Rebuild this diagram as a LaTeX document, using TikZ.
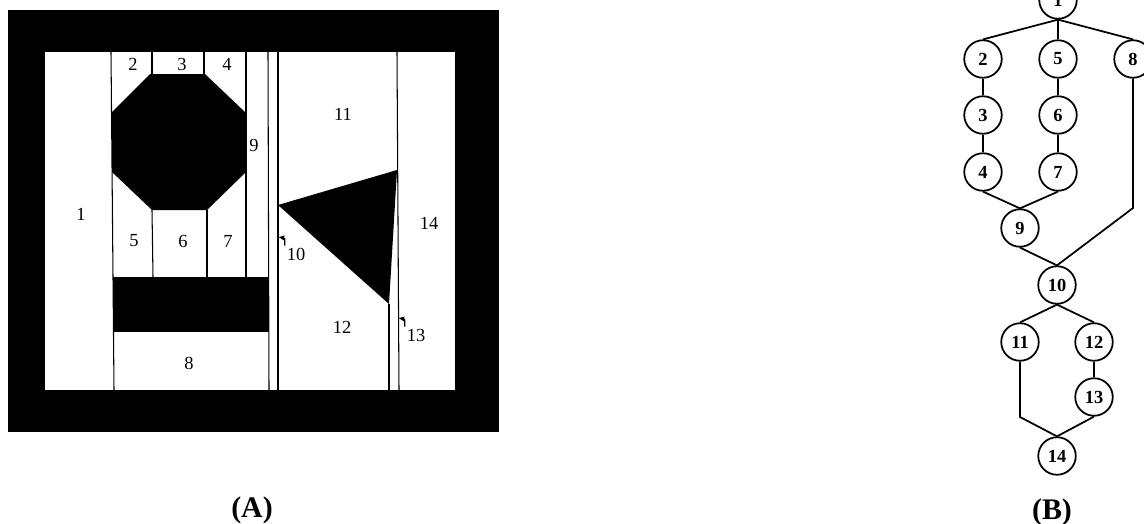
\documentclass[tikz,border=0pt]{standalone}
\usepackage{fontspec}
\setmainfont{Liberation Serif}
\usetikzlibrary{arrows.meta}

\begin{document}
\begin{tikzpicture}[x=0.02cm,y=-0.02cm,>=latex,
  seg/.style={line width=0.6pt},
  lbl/.style={inner sep=1pt,font=\fontsize{10.5}{12}\selectfont},
  vx/.style={draw,circle,line width=1pt,minimum size=0.75cm,inner sep=0pt,
    font=\fontsize{10.5}{12}\selectfont\bfseries},
  edge/.style={line width=1pt},
  captext/.style={font=\fontsize{17}{20}\selectfont\bfseries}]
  \useasboundingbox (0,0) rectangle (1144,524);
  \clip (0,0) rectangle (1144,524);
  % (A) segmented picture
  \fill[black] (8,10) rectangle (499,432);
  \fill[white] (45,52) rectangle (455,390);
  \fill[black] (150,74)--(205,74)--(246,113)--(246,172)--(207,210)--(152,210)--(112,172)--(112,112)--cycle;
  \fill[black] (113,277) rectangle (269,332);
  \fill[black] (278,205)--(397,170)--(389,304)--cycle;
  \draw[seg] (111,52)--(114,390);
  \draw[seg] (152,52)--(152,74);
  \draw[seg] (204,52)--(204,74);
  \draw[seg] (246,52)--(246,277);
  \draw[seg] (152,210)--(153,277);
  \draw[seg] (207,210)--(207,277);
  \draw[seg] (268,52)--(269,390);
  \draw[seg] (278,52)--(278,390);
  \draw[seg] (397,52)--(399,390);
  \draw[seg] (389,304)--(389,390);
  \node[lbl] (r1) at (81,214) {1};
  \node[lbl] (r2) at (133,64) {2};
  \node[lbl] (r3) at (182,64) {3};
  \node[lbl] (r4) at (227,64) {4};
  \node[lbl] (r5) at (134,241) {5};
  \node[lbl] (r6) at (183,241) {6};
  \node[lbl] (r7) at (228,241) {7};
  \node[lbl] (r8) at (189,363) {8};
  \node[lbl] (r9) at (254,145) {9};
  \node[lbl] (r10) at (296,254) {10};
  \node[lbl] (r11) at (343,114) {11};
  \node[lbl] (r12) at (342,327) {12};
  \node[lbl] (r13) at (416,335) {13};
  \node[lbl] (r14) at (429,223) {14};
  \draw[line width=0.7pt,-{Latex[length=3.5pt,width=3pt]}] (r10.north west) .. controls (285,238) .. (278,237);
  \draw[line width=0.7pt,-{Latex[length=3.5pt,width=3pt]}] (r13.north west) .. controls (405,319) .. (398,318);
  \node[captext] (capA) at (252,510) {(A)};
  % (B) region graph
  \node[vx] (n1) at (1058,0) {1};
  \node[vx] (n2) at (983,59) {2};
  \node[vx] (n5) at (1058,59) {5};
  \node[vx] (n8) at (1133,59) {8};
  \node[vx] (n3) at (983,115) {3};
  \node[vx] (n6) at (1058,115) {6};
  \node[vx] (n4) at (983,172) {4};
  \node[vx] (n7) at (1058,172) {7};
  \node[vx] (n9) at (1020,228) {9};
  \node[vx] (n10) at (1057,285) {10};
  \node[vx] (n11) at (1020,342) {11};
  \node[vx] (n12) at (1094,342) {12};
  \node[vx] (n13) at (1094,397) {13};
  \node[vx] (n14) at (1057,456) {14};
  \coordinate (k8) at (1133,208);
  \coordinate (k11) at (1020,417);
  \draw[edge] (n1.south)--(n2.north);
  \draw[edge] (n1.south)--(n5.north);
  \draw[edge] (n1.south)--(n8.north);
  \draw[edge] (n2)--(n3);
  \draw[edge] (n3)--(n4);
  \draw[edge] (n5)--(n6);
  \draw[edge] (n6)--(n7);
  \draw[edge] (n4.south)--(n9.north);
  \draw[edge] (n7.south)--(n9.north);
  \draw[edge] (n8.south)--(k8)--(n10.north);
  \draw[edge] (n9.south)--(n10.north);
  \draw[edge] (n10.south)--(n11.north);
  \draw[edge] (n10.south)--(n12.north);
  \draw[edge] (n12)--(n13);
  \draw[edge] (n11.south)--(k11)--(n14.north);
  \draw[edge] (n13.south)--(n14.north);
  \node[captext] (capB) at (1052,512) {(B)};
\end{tikzpicture}
\end{document}
